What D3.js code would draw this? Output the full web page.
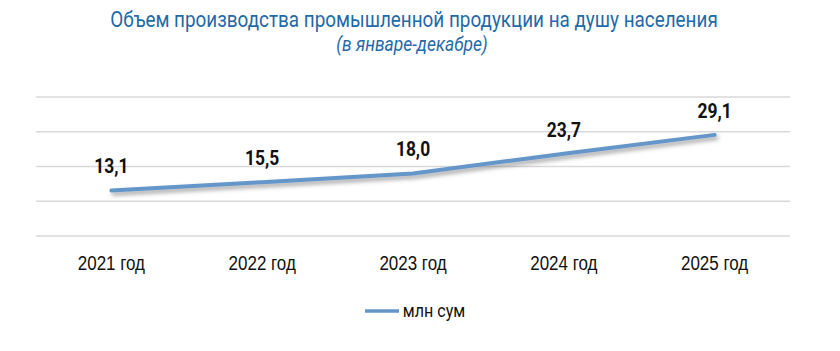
<!DOCTYPE html>
<html>
<head>
<meta charset="utf-8">
<script src="https://cdn.jsdelivr.net/npm/d3@7"></script>
<style>
  body { margin: 0; background: #fff; }
  svg { display: block; font-family: Roboto, "Noto Sans", sans-serif; }
</style>
</head>
<body>
<div class="chart"></div>
<script>
// Chart data
const years = ["2021 год", "2022 год", "2023 год", "2024 год", "2025 год"];
const values = [13.1, 15.5, 18.0, 23.7, 29.1];
const yTicks = [0, 10, 20, 30, 40];
const seriesName = "млн сум";
const title = "Объем производства промышленной продукции на душу населения";
const subtitle = "(в январе-декабре)";

// Dimensions
const W = 840, H = 351;
const margin = { top: 97, right: 50, bottom: 115, left: 36 };
const width = W - margin.left - margin.right;
const height = H - margin.top - margin.bottom;
const squeeze = 0.87; // the original font is a condensed one

const svg = d3.select(".chart").append("svg")
  .attr("width", W)
  .attr("height", H);

// Shadow under the line
const filter = svg.append("defs").append("filter")
  .attr("id", "shadow")
  .attr("x", "-10%").attr("y", "-50%")
  .attr("width", "120%").attr("height", "200%");
filter.append("feDropShadow")
  .attr("dx", 2).attr("dy", 3)
  .attr("stdDeviation", 2)
  .attr("flood-color", "#555")
  .attr("flood-opacity", 0.55);

// Condensed text helper
function label(sel, x, y, text) {
  return sel.append("text")
    .attr("transform", `translate(${x},${y}) scale(${squeeze},1)`)
    .attr("text-anchor", "middle")
    .text(text);
}

// Titles
label(svg, 414, 27, title)
  .attr("fill", "#1f6aa8")
  .attr("font-size", 21.7);
label(svg, 412, 51, subtitle)
  .attr("fill", "#1f6aa8")
  .attr("font-size", 20)
  .attr("font-style", "italic");

const g = svg.append("g")
  .attr("transform", `translate(${margin.left},${margin.top})`);

// Scales
const x = d3.scaleBand()
  .domain(years)
  .range([0, width]);
const y = d3.scaleLinear()
  .domain([0, 40])
  .range([height, 0]);

// Gridlines
g.append("g")
  .selectAll("line")
  .data(yTicks)
  .join("line")
  .attr("x1", 0)
  .attr("x2", width)
  .attr("y1", d => y(d))
  .attr("y2", d => y(d))
  .attr("stroke", "#d9d9d9")
  .attr("stroke-width", 1.3);

// X axis labels
const xAxis = g.append("g")
  .attr("transform", `translate(0,${height})`)
  .call(d3.axisBottom(x).tickSize(0).tickPadding(0));
xAxis.select(".domain").remove();
xAxis.selectAll("text").remove();
xAxis.selectAll(".tick").each(function (d) {
  label(d3.select(this), 0, 34, d)
    .attr("fill", "#111")
    .attr("font-size", 19.5);
});

// Line
const line = d3.line()
  .x((d, i) => x(years[i]) + x.bandwidth() / 2)
  .y(d => y(d));

g.append("path")
  .datum(values)
  .attr("fill", "none")
  .attr("stroke", "#6596ca")
  .attr("stroke-width", 4)
  .attr("stroke-linecap", "round")
  .attr("filter", "url(#shadow)")
  .attr("d", line);

// Value labels
values.forEach((v, i) => {
  label(g, x(years[i]) + x.bandwidth() / 2, y(v) - 17, d3.format(".1f")(v).replace(".", ","))
    .attr("fill", "#111")
    .attr("font-size", 20)
    .attr("font-weight", "bold");
});

// Legend
const legend = svg.append("g")
  .attr("transform", `translate(365,311)`);
legend.append("line")
  .attr("x1", 0).attr("x2", 34)
  .attr("stroke", "#6596ca")
  .attr("stroke-width", 3.5);
label(legend, 69, 6, seriesName)
  .attr("fill", "#111")
  .attr("font-size", 18.5);
</script>
</body>
</html>
